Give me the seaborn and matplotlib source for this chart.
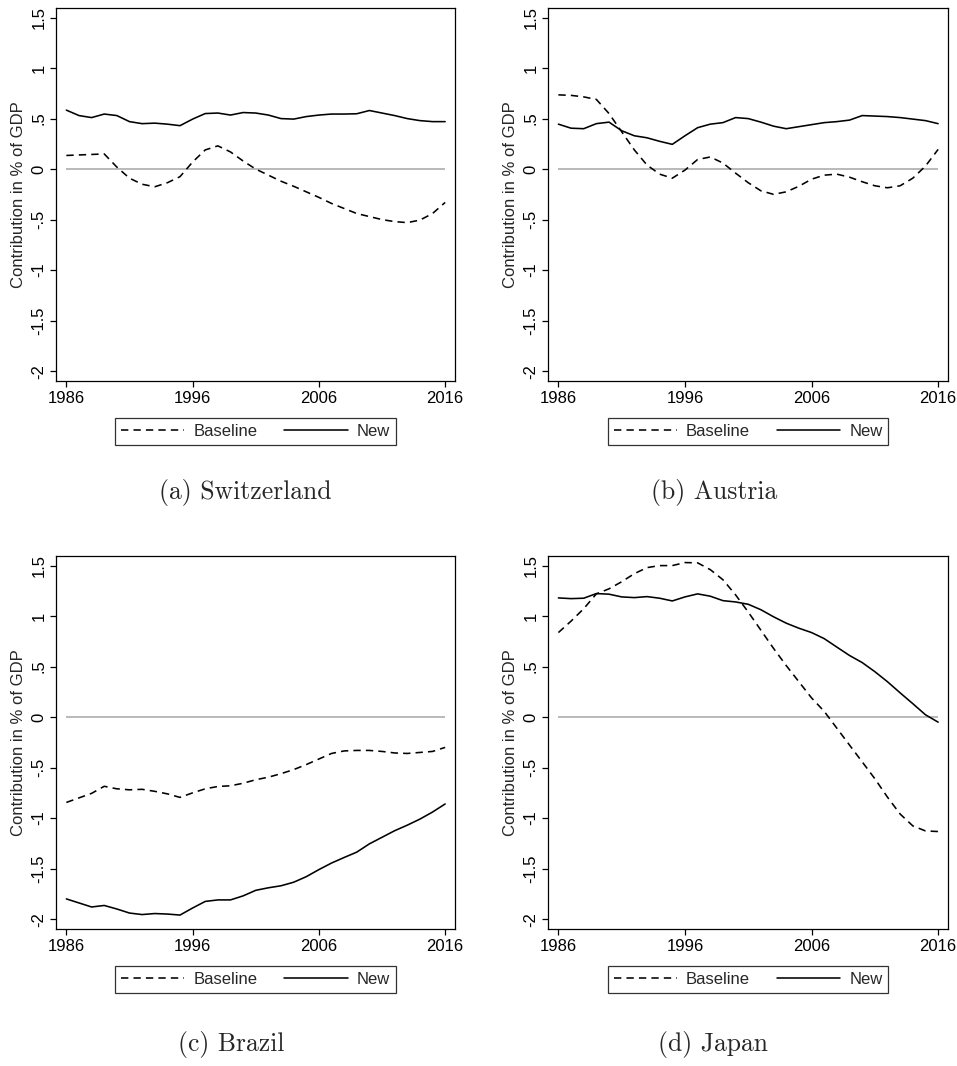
import numpy as np
import pandas as pd
import matplotlib
matplotlib.use("Agg")
import matplotlib.pyplot as plt
import seaborn as sns
from matplotlib.lines import Line2D

years = list(range(1986, 2017))

che_baseline = [0.135, 0.14, 0.145, 0.15, 0.02, -0.09, -0.15, -0.175, -0.135, -0.075,
                0.07, 0.19, 0.23, 0.17, 0.08, 0.0, -0.06, -0.12, -0.17, -0.225,
                -0.28, -0.34, -0.39, -0.44, -0.47, -0.5, -0.52, -0.53, -0.505, -0.44,
                -0.33]
che_new = [0.584, 0.53, 0.51, 0.545, 0.53, 0.47, 0.45, 0.455, 0.445, 0.43,
           0.495, 0.55, 0.555, 0.535, 0.56, 0.555, 0.535, 0.50, 0.495, 0.52,
           0.535, 0.545, 0.545, 0.548, 0.58, 0.555, 0.53, 0.50, 0.48, 0.47,
           0.47]

aut_baseline = [0.735, 0.73, 0.715, 0.69, 0.55, 0.37, 0.19, 0.04, -0.05, -0.09,
                -0.01, 0.095, 0.12, 0.06, -0.04, -0.135, -0.215, -0.25, -0.225, -0.17,
                -0.10, -0.06, -0.05, -0.08, -0.125, -0.165, -0.185, -0.165, -0.09, 0.03,
                0.195]
aut_new = [0.445, 0.405, 0.40, 0.45, 0.465, 0.38, 0.33, 0.31, 0.275, 0.245,
           0.33, 0.41, 0.445, 0.46, 0.51, 0.50, 0.465, 0.425, 0.40, 0.42,
           0.44, 0.46, 0.47, 0.485, 0.53, 0.525, 0.52, 0.51, 0.495, 0.48,
           0.45]

bra_baseline = [-0.845, -0.80, -0.755, -0.685, -0.71, -0.72, -0.715, -0.735, -0.76, -0.795,
                -0.75, -0.71, -0.687, -0.68, -0.655, -0.62, -0.595, -0.56, -0.52, -0.47,
                -0.415, -0.36, -0.335, -0.33, -0.33, -0.34, -0.355, -0.36, -0.35, -0.34,
                -0.30]
bra_new = [-1.80, -1.84, -1.88, -1.865, -1.90, -1.94, -1.955, -1.945, -1.95, -1.96,
           -1.89, -1.825, -1.81, -1.81, -1.77, -1.715, -1.69, -1.67, -1.635, -1.58,
           -1.51, -1.445, -1.39, -1.337, -1.255, -1.19, -1.125, -1.07, -1.01, -0.94,
           -0.86]

jpn_baseline = [0.837, 0.95, 1.073, 1.22, 1.27, 1.34, 1.42, 1.48, 1.50, 1.50,
                1.53, 1.527, 1.46, 1.36, 1.21, 1.04, 0.86, 0.68, 0.51, 0.35,
                0.19, 0.057, -0.11, -0.277, -0.443, -0.61, -0.793, -0.96, -1.077, -1.127,
                -1.133]
jpn_new = [1.18, 1.173, 1.177, 1.223, 1.217, 1.19, 1.183, 1.193, 1.177, 1.15,
           1.19, 1.22, 1.197, 1.153, 1.14, 1.117, 1.063, 0.993, 0.93, 0.88,
           0.837, 0.777, 0.693, 0.61, 0.54, 0.45, 0.35, 0.24, 0.133, 0.023,
           -0.05]

countries = ["Switzerland", "Austria", "Brazil", "Japan"]
panel_letters = ["(a)", "(b)", "(c)", "(d)"]
series_names = ["Baseline", "New"]
baseline_values = [che_baseline, aut_baseline, bra_baseline, jpn_baseline]
new_values = [che_new, aut_new, bra_new, jpn_new]

x_ticks = [1986, 1996, 2006, 2016]
y_ticks = [-2, -1.5, -1, -0.5, 0, 0.5, 1, 1.5]
y_tick_labels = ["-2", "-1.5", "-1", "-.5", "0", ".5", "1", "1.5"]
y_label = "Contribution in % of GDP"

sns.set_style("ticks")
plt.rcParams["font.family"] = ["Liberation Sans", "DejaVu Sans"]

W, H = 957, 1066
fig = plt.figure(figsize=(W / 100, H / 100), dpi=100)

# axes boxes in pixels: (left, top, right, bottom)
boxes = [(56, 8, 455, 381), (548, 8, 948, 381),
         (56, 556, 455, 929), (548, 556, 948, 929)]
caption_pos = [(245, 493), (714, 493), (231, 1044), (713, 1044)]

LW = 1.15
dash_map = {"Baseline": (4.6, 3.2), "New": ""}

for i, country in enumerate(countries):
    l, t, r, b = boxes[i]
    ax = fig.add_axes([l / W, 1 - b / H, (r - l) / W, (b - t) / H])
    df = pd.DataFrame({
        "Year": years * 2,
        "Value": baseline_values[i] + new_values[i],
        "Series": ["Baseline"] * len(years) + ["New"] * len(years),
    })
    ax.hlines(0, years[0], years[-1], color="#a6a6a6", linewidth=1.1, zorder=1)
    sns.lineplot(data=df, x="Year", y="Value", style="Series",
                 dashes=dash_map, color="black", linewidth=LW,
                 legend=False, ax=ax, zorder=3)
    ax.set_xlim(1985.18, 2016.78)
    ax.set_ylim(-2.098, 1.595)
    ax.set_xticks(x_ticks)
    ax.set_xticklabels([str(v) for v in x_ticks], fontsize=12)
    ax.set_yticks(y_ticks)
    ax.set_yticklabels(y_tick_labels, fontsize=12, rotation=90, va="center")
    ax.set_xlabel("")
    ax.set_ylabel(y_label, fontsize=12, labelpad=4)
    ax.tick_params(axis="both", direction="out", length=4, width=0.9,
                   colors="black", pad=3)
    for sp in ax.spines.values():
        sp.set_visible(True)
        sp.set_color("black")
        sp.set_linewidth(0.9)

    handles = [Line2D([], [], color="black", linewidth=LW, dashes=dash_map["Baseline"]),
               Line2D([], [], color="black", linewidth=LW)]
    leg = ax.legend(handles, series_names, loc="upper center",
                    bbox_to_anchor=(0.5, -0.1), ncol=2, fontsize=12,
                    frameon=True, fancybox=False, edgecolor="black",
                    handlelength=3.8, handletextpad=0.55, columnspacing=1.6,
                    borderpad=0.35, borderaxespad=0)
    leg.get_frame().set_linewidth(0.9)

    cx, cy = caption_pos[i]
    fig.text(cx / W, 1 - cy / H, f"{panel_letters[i]} {country}",
             family=["cmr10", "DejaVu Serif"], fontsize=18.5,
             ha="center", va="center")

fig.savefig("out.png", dpi=100)
